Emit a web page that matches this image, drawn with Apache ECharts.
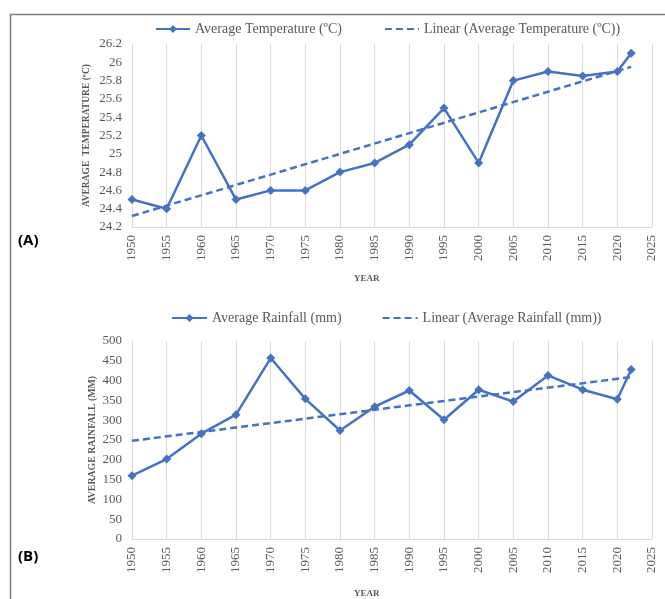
<!DOCTYPE html>
<html>
<head>
<meta charset="utf-8">
<script src="https://cdn.jsdelivr.net/npm/echarts@6/dist/echarts.min.js"></script>
<style>
html,body{margin:0;padding:0;background:#fff;}
#chart{width:665px;height:599px;}
</style>
</head>
<body>
<div id="chart"></div>
<script>
const years = [1950,1955,1960,1965,1970,1975,1980,1985,1990,1995,2000,2005,2010,2015,2020,2022];
const temperature = [24.5,24.4,25.2,24.5,24.6,24.6,24.8,24.9,25.1,25.5,24.9,25.8,25.9,25.85,25.9,26.1];
const rainfall = [160,202,266,314,457,354,274,334,375,301,377,347,413,377,353,428];
const trendYears = [1950,2022];
const temperatureTrend = [24.32,25.95];
const rainfallTrend = [248,409];
const tempName = 'Average Temperature (ºC)';
const tempTrendName = 'Linear (Average Temperature (ºC))';
const rainName = 'Average Rainfall (mm)';
const rainTrendName = 'Linear (Average Rainfall (mm))';

const blue = '#4472C4';
const textColor = '#595959';
const gridColor = '#d9d9d9';
const serif = '"Liberation Serif", "Times New Roman", serif';

function xAxisDef(gridIndex){
  return {
    type:'value', gridIndex, min:1950, max:2025, interval:5,
    axisLine:{show:true, lineStyle:{color:gridColor}},
    axisTick:{show:false},
    splitLine:{show:true, lineStyle:{color:gridColor}},
    axisLabel:{rotate:90, color:textColor, fontFamily:serif, fontSize:13, margin:8,
      formatter:v=>String(v)}
  };
}

const chart = echarts.init(document.getElementById('chart'));
chart.setOption({
  animation:false,
  backgroundColor:'#fff',
  textStyle:{fontFamily:serif},
  grid:[
    {left:132, right:13, top:44, height:183},
    {left:132, right:13, top:341, height:198}
  ],
  legend:[
    {left:150, top:17, itemGap:42, itemWidth:34, itemHeight:10,
     data:[tempName, {name:tempTrendName, itemStyle:{opacity:0}}],
     textStyle:{color:textColor, fontFamily:serif, fontSize:14}},
    {left:166, top:306, itemGap:40, itemWidth:35, itemHeight:10,
     data:[rainName, {name:rainTrendName, itemStyle:{opacity:0}}],
     textStyle:{color:textColor, fontFamily:serif, fontSize:14}}
  ],
  xAxis:[xAxisDef(0), xAxisDef(1)],
  yAxis:[
    {type:'value', gridIndex:0, min:24.2, max:26.2, interval:0.2,
     name:'AVERAGE  TEMPERATURE (ºC)', nameLocation:'middle', nameGap:40, nameMoveOverlap:false,
     nameTextStyle:{color:textColor, fontFamily:serif, fontSize:9.5, fontWeight:'bold'},
     axisLine:{show:false}, axisTick:{show:false}, splitLine:{show:false},
     axisLabel:{color:textColor, fontFamily:serif, fontSize:13, margin:10}},
    {type:'value', gridIndex:1, min:0, max:500, interval:50,
     name:'AVERAGE RAINFALL (MM)', nameLocation:'middle', nameGap:35, nameMoveOverlap:false,
     nameTextStyle:{color:textColor, fontFamily:serif, fontSize:9.8, fontWeight:'bold'},
     axisLine:{show:false}, axisTick:{show:false}, splitLine:{show:false},
     axisLabel:{color:textColor, fontFamily:serif, fontSize:13, margin:10}}
  ],
  series:[
    {name:tempName, type:'line', xAxisIndex:0, yAxisIndex:0,
     data:years.map((y,i)=>[y,temperature[i]]),
     symbol:'diamond', symbolSize:9,
     lineStyle:{color:blue, width:2.5}, itemStyle:{color:blue}},
    {name:tempTrendName, type:'line', xAxisIndex:0, yAxisIndex:0,
     data:trendYears.map((y,i)=>[y,temperatureTrend[i]]),
     showSymbol:false, symbol:'none',
     lineStyle:{color:blue, width:2.5, type:[7,4]}, itemStyle:{color:blue}},
    {name:rainName, type:'line', xAxisIndex:1, yAxisIndex:1,
     data:years.map((y,i)=>[y,rainfall[i]]),
     symbol:'diamond', symbolSize:9,
     lineStyle:{color:blue, width:2.5}, itemStyle:{color:blue}},
    {name:rainTrendName, type:'line', xAxisIndex:1, yAxisIndex:1,
     data:trendYears.map((y,i)=>[y,rainfallTrend[i]]),
     showSymbol:false, symbol:'none',
     lineStyle:{color:blue, width:2.5, type:[7,4]}, itemStyle:{color:blue}}
  ],
  graphic:[
    {type:'rect', left:8, top:12, shape:{width:680, height:620},
     style:{fill:'none', stroke:'#7f7f7f', lineWidth:1.5}, z:-1, silent:true},
    {type:'text', left:18, top:233, style:{text:'(A)', fill:'#000',
      font:'bold 15px "Open Sans", "Liberation Sans", sans-serif'}},
    {type:'text', left:18, top:549, style:{text:'(B)', fill:'#000',
      font:'bold 15px "Open Sans", "Liberation Sans", sans-serif'}},
    {type:'text', left:354, top:274, style:{text:'YEAR', fill:textColor,
      font:'bold 9px "Liberation Serif", serif'}},
    {type:'text', left:354, top:589, style:{text:'YEAR', fill:textColor,
      font:'bold 9px "Liberation Serif", serif'}}
  ]
});
</script>
</body>
</html>
